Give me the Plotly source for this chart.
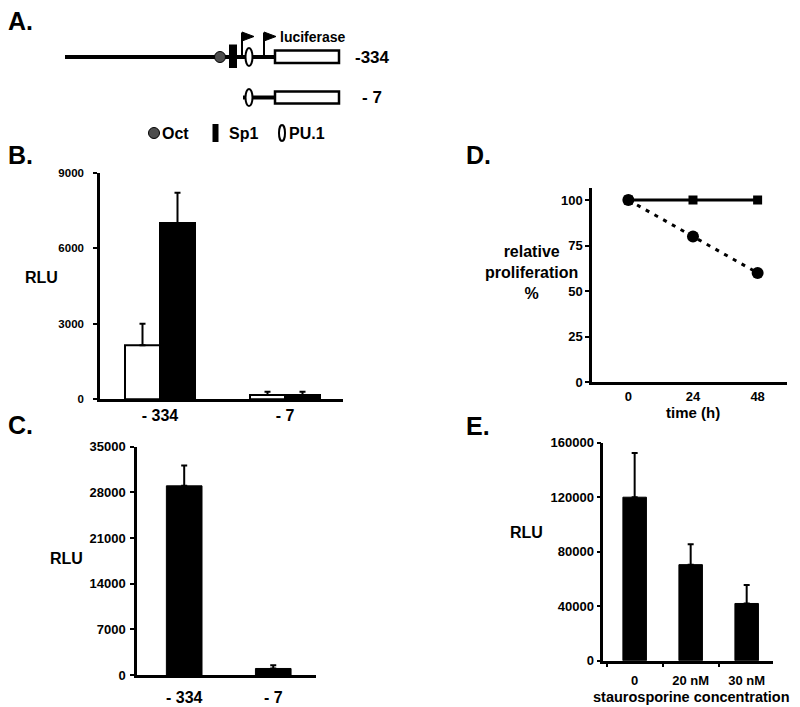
import plotly.graph_objects as go

W, H = 800, 707

# ---------------- data ----------------
# Panel B
b_categories = ["- 334", "- 7"]
b_open_values = [2150, 170]
b_open_errors = [850, 130]
b_filled_values = [7000, 170]
b_filled_errors = [1200, 130]
b_ticks = [0, 3000, 6000, 9000]

# Panel C
c_categories = ["- 334", "- 7"]
c_values = [29000, 1000]
c_errors = [3100, 500]
c_ticks = [0, 7000, 14000, 21000, 28000, 35000]

# Panel D
d_time = [0, 24, 48]
d_control = [100, 100, 100]
d_treated = [100, 80, 60]
d_ticks = [0, 25, 50, 75, 100]

# Panel E
e_categories = ["0", "20 nM", "30 nM"]
e_values = [120000, 70500, 42000]
e_errors = [32500, 15000, 13500]
e_ticks = [0, 40000, 80000, 120000, 160000]

# Panel A (schematic coordinates, diagram units)
a_constructs = ["-334", "- 7"]
a_construct_start = [65, 243]
a_luc_start = 275
a_luc_end = 339
a_oct_pos = 220
a_sp1_pos = 233
a_pu1_pos = 249
a_tss_pos = [242, 264]

FONT = "Liberation Sans, Arial, Helvetica, sans-serif"


def xdom(l, r):
    return [l / W, r / W]


def ydom(top, bottom):
    return [1 - bottom / H, 1 - top / H]


def bold(vals):
    return [f"<b>{v}</b>" for v in vals]


fig = go.Figure()

# ---- Panel B ----
fig.add_trace(go.Bar(
    x=b_categories, y=b_open_values, xaxis="x", yaxis="y",
    offset=-0.28, width=0.28,
    marker=dict(color="white", line=dict(color="black", width=2)),
    error_y=dict(type="data", symmetric=False, array=b_open_errors,
                 arrayminus=[0] * len(b_open_errors), color="black",
                 thickness=2, width=3)))
fig.add_trace(go.Bar(
    x=b_categories, y=b_filled_values, xaxis="x", yaxis="y",
    offset=0.0, width=0.28,
    marker=dict(color="black", line=dict(color="black", width=2)),
    error_y=dict(type="data", symmetric=False, array=b_filled_errors,
                 arrayminus=[0] * len(b_filled_errors), color="black",
                 thickness=2, width=3)))

# ---- Panel C ----
fig.add_trace(go.Bar(
    x=c_categories, y=c_values, xaxis="x2", yaxis="y2",
    offset=-0.2, width=0.4,
    marker=dict(color="black", line=dict(color="black", width=1)),
    error_y=dict(type="data", symmetric=False, array=c_errors,
                 arrayminus=[0] * len(c_errors), color="black",
                 thickness=2, width=3)))

# ---- Panel D ----
fig.add_trace(go.Scatter(
    x=d_time, y=d_control, xaxis="x3", yaxis="y3", mode="lines+markers",
    line=dict(color="black", width=3),
    marker=dict(symbol="square", size=9, color="black")))
fig.add_trace(go.Scatter(
    x=d_time, y=d_treated, xaxis="x3", yaxis="y3", mode="lines+markers",
    line=dict(color="black", width=3, dash="4px,6px"),
    marker=dict(symbol="circle", size=12, color="black")))

# ---- Panel E ----
fig.add_trace(go.Bar(
    x=e_categories, y=e_values, xaxis="x4", yaxis="y4",
    offset=-0.21, width=0.42,
    marker=dict(color="black", line=dict(color="black", width=1)),
    error_y=dict(type="data", symmetric=False, array=e_errors,
                 arrayminus=[0] * len(e_errors), color="black",
                 thickness=2, width=3)))

# invisible trace to establish diagram axes
fig.add_trace(go.Scatter(x=[0, 800], y=[0, 145], xaxis="x5", yaxis="y5",
                         mode="markers", marker=dict(opacity=0),
                         hoverinfo="skip"))

axis_common = dict(showline=True, linecolor="black", linewidth=2.5,
                   showgrid=False, zeroline=False, ticks="outside",
                   ticklen=4, tickwidth=2, tickcolor="black", fixedrange=True)


def tf(size):
    return dict(size=size, color="black", family=FONT)


fig.update_layout(
    template="none",
    width=W, height=H, margin=dict(l=0, r=0, t=0, b=0),
    paper_bgcolor="white", plot_bgcolor="white", showlegend=False,
    barmode="overlay",
    font=dict(family=FONT, color="black"),
    xaxis=dict(axis_common, domain=xdom(100, 343), anchor="y",
               type="category", range=[-0.48, 1.464], ticks="",
               tickvals=b_categories, ticktext=bold(b_categories),
               tickfont=tf(16)),
    yaxis=dict(axis_common, domain=ydom(172.7, 399.3), anchor="x",
               range=[0, 9000], tickvals=b_ticks, ticktext=bold(b_ticks),
               ticklabelstandoff=7, tickfont=tf(11.5)),
    xaxis2=dict(axis_common, domain=xdom(137, 316), anchor="y2",
                type="category", range=[-0.53, 1.48], ticks="",
                tickvals=c_categories, ticktext=bold(c_categories),
                ticklabelstandoff=6, tickfont=tf(16)),
    yaxis2=dict(axis_common, domain=ydom(446.7, 675), anchor="x2",
                range=[0, 35000], tickvals=c_ticks, ticktext=bold(c_ticks),
                ticklabelstandoff=2, tickfont=tf(13)),
    xaxis3=dict(axis_common, domain=xdom(592, 786.7), anchor="y3",
                range=[-13.5, 58.8], tickvals=d_time, ticktext=bold(d_time),
                ticks="", tickfont=tf(13)),
    yaxis3=dict(axis_common, domain=ydom(188, 382.3), anchor="x3",
                range=[0, 106.6], tickvals=d_ticks, ticktext=bold(d_ticks),
                tickfont=tf(13)),
    xaxis4=dict(axis_common, domain=xdom(603.3, 773), anchor="y4",
                type="category", range=[-0.56, 2.47],
                tickson="boundaries", ticklabelstandoff=6,
                tickvals=e_categories, ticktext=bold(e_categories),
                tickfont=tf(13)),
    yaxis4=dict(axis_common, domain=ydom(442.7, 660.7), anchor="x4",
                range=[0, 160000], tickvals=e_ticks, ticktext=bold(e_ticks),
                tickfont=tf(13)),
    xaxis5=dict(domain=[0, 1], anchor="y5", range=[0, 800], visible=False,
                fixedrange=True),
    yaxis5=dict(domain=ydom(0, 145), anchor="x5", range=[145, 0],
                visible=False, fixedrange=True),
)

# ---------------- Panel A schematic ----------------
shapes = []
row_y = [57, 97.5]
X, Y = "x5", "y5"

# construct -334
y0 = row_y[0]
shapes.append(dict(type="line", xref=X, yref=Y, x0=a_construct_start[0], x1=a_luc_start,
                   y0=y0, y1=y0, line=dict(color="black", width=4)))
shapes.append(dict(type="circle", xref=X, yref=Y, x0=a_oct_pos - 5.5, x1=a_oct_pos + 5.5,
                   y0=y0 - 5.5, y1=y0 + 5.5, fillcolor="#4d4d4d",
                   line=dict(color="black", width=1)))
shapes.append(dict(type="rect", xref=X, yref=Y, x0=a_sp1_pos - 4, x1=a_sp1_pos + 4,
                   y0=y0 - 12.5, y1=y0 + 11, fillcolor="black", line=dict(width=0)))
for tx in a_tss_pos:
    shapes.append(dict(type="line", xref=X, yref=Y, x0=tx, x1=tx, y0=y0, y1=33,
                       line=dict(color="black", width=2)))
    shapes.append(dict(type="path", xref=X, yref=Y,
                       path=f"M {tx},32 L {tx + 12},36.5 L {tx},41 Z",
                       fillcolor="black", line=dict(color="black", width=1)))
shapes.append(dict(type="circle", xref=X, yref=Y, x0=a_pu1_pos - 3.5, x1=a_pu1_pos + 3.5,
                   y0=y0 - 9, y1=y0 + 9, fillcolor="white",
                   line=dict(color="black", width=2)))
shapes.append(dict(type="rect", xref=X, yref=Y, x0=a_luc_start, x1=a_luc_end,
                   y0=y0 - 6.5, y1=y0 + 6, fillcolor="white",
                   line=dict(color="black", width=2.5)))

# construct -7
y1 = row_y[1]
shapes.append(dict(type="line", xref=X, yref=Y, x0=a_construct_start[1], x1=a_luc_start,
                   y0=y1, y1=y1, line=dict(color="black", width=4)))
shapes.append(dict(type="circle", xref=X, yref=Y, x0=a_pu1_pos - 3.5, x1=a_pu1_pos + 3.5,
                   y0=y1 - 8.5, y1=y1 + 8.5, fillcolor="white",
                   line=dict(color="black", width=2)))
shapes.append(dict(type="rect", xref=X, yref=Y, x0=a_luc_start, x1=a_luc_end,
                   y0=y1 - 6, y1=y1 + 6, fillcolor="white",
                   line=dict(color="black", width=2.5)))

# legend symbols
ly = 133
shapes.append(dict(type="circle", xref=X, yref=Y, x0=148.5, x1=159.5,
                   y0=ly - 5.5, y1=ly + 5.5, fillcolor="#4d4d4d",
                   line=dict(color="black", width=1)))
shapes.append(dict(type="rect", xref=X, yref=Y, x0=212.5, x1=218.5,
                   y0=ly - 9, y1=ly + 9, fillcolor="black", line=dict(width=0)))
shapes.append(dict(type="circle", xref=X, yref=Y, x0=279, x1=285,
                   y0=ly - 8, y1=ly + 8, fillcolor="white",
                   line=dict(color="black", width=2)))

fig.update_layout(shapes=shapes)

ann = []


def text(x, y, s, size, xanchor="left", yanchor="middle", xref=X, yref=Y):
    ann.append(dict(x=x, y=y, text=f"<b>{s}</b>", xref=xref, yref=yref, showarrow=False,
                    xanchor=xanchor, yanchor=yanchor,
                    font=dict(size=size, family=FONT, color="black")))


text(278, 37, "luciferase", 14)
text(353, row_y[0], a_constructs[0], 17)
text(360, row_y[1], a_constructs[1], 17)
text(160, ly, "Oct", 16)
text(227, ly, "Sp1", 16)
text(287, ly, "PU.1", 16)


def ptext(px, py, s, size, xanchor="left", yanchor="middle"):
    ann.append(dict(x=px / W, y=1 - py / H, text=f"<b>{s}</b>", xref="paper", yref="paper",
                    showarrow=False, xanchor=xanchor, yanchor=yanchor,
                    font=dict(size=size, family=FONT, color="black")))


# panel letters
ptext(6, 21.5, "A.", 25)
ptext(6, 155, "B.", 25)
ptext(6, 425, "C.", 25)
ptext(464, 155, "D.", 25)
ptext(464, 426, "E.", 25)

# axis titles
ptext(41.5, 277, "RLU", 16, xanchor="center")
ptext(66.5, 558, "RLU", 16, xanchor="center")
ptext(526.7, 532, "RLU", 16, xanchor="center")
ptext(531, 272, "relative<br>proliferation<br>%", 16, xanchor="center")
ptext(693, 412, "time (h)", 15, xanchor="center")
ptext(691, 707, "staurosporine concentration", 14.5, xanchor="center",
      yanchor="bottom")

fig.update_layout(annotations=ann)

fig.write_html("out.html", config={"displayModeBar": False},
               post_script="document.body.style.margin='0';document.body.style.overflow='hidden';")
